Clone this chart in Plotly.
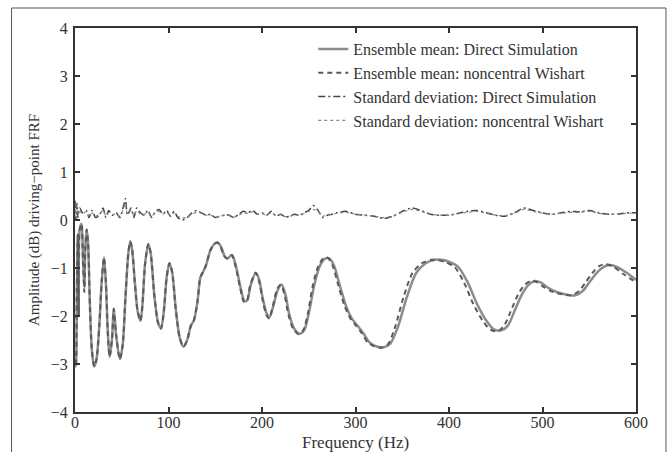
import plotly.graph_objects as go

# ---------------- data ----------------
freq_ds = [0, 1, 2, 3, 4, 5, 7, 8.5, 10, 11, 12.5, 14, 16, 18, 20.5, 23, 26, 28.5, 31, 33, 35, 37,
           39.5, 41.5, 44, 48, 51, 54, 57, 59, 61, 64, 67, 70, 72, 75, 78.5, 81, 85, 89, 92, 95,
           98, 101, 104, 108, 112, 116, 120, 124, 127, 131, 134, 137, 140, 145, 149, 152.5, 156,
           160, 163, 168, 172, 177, 181, 184, 188, 193.5, 197, 201, 205, 208, 212, 217, 221, 225,
           229, 234, 240, 245, 250, 256, 262, 268, 272, 277, 283, 290, 296, 302, 308, 315, 322,
           330, 337, 345, 355, 365, 375, 385, 392, 400, 410, 420, 430, 440, 448, 456, 463, 470,
           478, 485, 492, 498, 505, 515, 525, 535, 543, 550, 558, 565, 572, 580, 590, 600]
amp_ds = [-2.9, -3.05, -1.5, -0.3, -2.0, -0.2, -0.08, -0.8, -1.4, -0.6, -0.2, -0.5, -1.8, -2.7,
          -3.05, -2.9, -2.2, -1.3, -0.78, -1.3, -2.3, -2.85, -2.5, -1.85, -2.4, -2.9, -2.6, -1.6,
          -0.7, -0.45, -0.6, -1.3, -1.9, -2.1, -1.8, -0.9, -0.5, -0.7, -1.6, -2.15, -2.26, -1.9,
          -1.2, -0.9, -1.1, -1.9, -2.45, -2.64, -2.5, -2.2, -2.1, -1.7, -1.2, -1.08, -0.95, -0.62,
          -0.5, -0.47, -0.55, -0.75, -0.8, -0.73, -0.95, -1.4, -1.68, -1.68, -1.35, -1.1, -1.25,
          -1.65, -1.95, -2.03, -1.8, -1.45, -1.35, -1.55, -1.95, -2.25, -2.37, -2.3, -1.95, -1.35,
          -0.95, -0.8, -0.8, -0.95, -1.35, -1.8, -2.05, -2.2, -2.35, -2.55, -2.63, -2.65, -2.58,
          -2.25, -1.6, -1.1, -0.9, -0.83, -0.83, -0.87, -0.98, -1.3, -1.75, -2.1, -2.28, -2.3,
          -2.2, -1.9, -1.55, -1.35, -1.27, -1.3, -1.4, -1.5, -1.55, -1.57, -1.48, -1.3, -1.1,
          -0.98, -0.94, -0.98, -1.1, -1.25]

freq_nw = [0, 1, 2, 3, 4, 5, 7, 8.5, 10, 11, 12.5, 14, 16, 18, 20.5, 23, 26, 28.5, 31, 33, 35, 37,
           39.5, 41.5, 44, 48, 51, 54, 57, 59, 61, 64, 67, 70, 72, 75, 78.5, 81, 85, 89, 92, 95,
           98, 101, 104, 108, 112, 116, 120, 124, 127, 131, 134, 137, 140, 145, 149, 152, 155.5,
           159.5, 162.5, 167.5, 171.5, 176.5, 180.5, 183.5, 187.5, 193, 196.5, 200.5, 204.5, 207.5,
           211.5, 216, 220, 224, 228, 233, 239, 244, 249, 254.5, 260.5, 266.5, 270.5, 275.5, 281.5,
           288.5, 294.5, 300.5, 306.5, 313, 320, 328, 335, 342, 351.5, 361, 371, 381, 388.5, 396.5,
           406, 416, 426, 436, 444, 452, 459, 466, 474, 481, 488, 494.5, 501.5, 511.5, 521.5, 531,
           539, 546, 553.5, 560.5, 567.5, 575.5, 586, 600]
amp_nw = [-2.9, -3.05, -1.5, -0.3, -2.0, -0.2, -0.08, -0.8, -1.5, -0.6, -0.2, -0.5, -1.8, -2.7,
          -3.05, -2.9, -2.2, -1.3, -0.78, -1.3, -2.3, -2.85, -2.5, -1.85, -2.4, -2.9, -2.6, -1.6,
          -0.7, -0.45, -0.6, -1.3, -1.9, -2.1, -1.8, -0.9, -0.5, -0.7, -1.6, -2.15, -2.26, -1.9,
          -1.2, -0.9, -1.1, -1.9, -2.45, -2.64, -2.5, -2.2, -2.1, -1.7, -1.2, -1.08, -0.95, -0.62,
          -0.5, -0.47, -0.55, -0.75, -0.8, -0.73, -0.95, -1.4, -1.7, -1.7, -1.35, -1.1, -1.25,
          -1.65, -1.97, -2.05, -1.8, -1.45, -1.35, -1.55, -1.95, -2.25, -2.38, -2.3, -1.95, -1.35,
          -0.95, -0.78, -0.79, -0.95, -1.35, -1.8, -2.05, -2.2, -2.35, -2.55, -2.63, -2.66, -2.58,
          -2.25, -1.6, -1.1, -0.9, -0.83, -0.84, -0.88, -0.98, -1.3, -1.75, -2.1, -2.28, -2.32,
          -2.2, -1.9, -1.55, -1.35, -1.27, -1.3, -1.4, -1.5, -1.55, -1.57, -1.48, -1.3, -1.1,
          -0.96, -0.92, -0.97, -1.12, -1.3]

freq_std = [0, 1, 2, 3, 5, 8, 12, 15, 18, 22, 26, 30, 33, 36, 40, 44, 48, 52, 54, 56, 60, 63, 66,
            70, 74, 78, 82, 86, 90, 94, 98, 102, 106, 110, 115, 120, 125, 130, 135, 140, 145, 150,
            155, 160, 165, 170, 175, 180, 185, 190, 195, 200, 205, 210, 215, 220, 225, 230, 235,
            240, 245, 250, 255, 260, 265, 270, 275, 280, 290, 300, 310, 320, 330, 340, 350, 360,
            370, 380, 390, 400, 410, 420, 430, 440, 450, 460, 470, 480, 490, 500, 510, 520, 530,
            540, 550, 560, 570, 580, 590, 600]
std_ds = [0.4, 0.0, 0.35, 0.05, 0.25, 0.15, 0.2, 0.05, 0.2, 0.05, 0.1, 0.25, 0.05, 0.2, 0.1, 0.15,
          0.05, 0.3, 0.45, 0.1, 0.25, 0.05, 0.25, 0.15, 0.1, 0.2, 0.05, 0.18, 0.22, 0.12, 0.2,
          0.08, 0.18, 0.05, 0.0, 0.05, 0.15, 0.2, 0.15, 0.1, 0.12, 0.05, 0.08, 0.1, 0.1, 0.05,
          0.12, 0.18, 0.15, 0.2, 0.12, 0.15, 0.1, 0.18, 0.08, 0.12, 0.06, 0.08, 0.12, 0.1, 0.15,
          0.2, 0.3, 0.2, 0.05, 0.1, 0.12, 0.15, 0.18, 0.12, 0.1, 0.08, 0.03, 0.08, 0.18, 0.25,
          0.2, 0.12, 0.1, 0.1, 0.14, 0.18, 0.2, 0.15, 0.1, 0.08, 0.15, 0.25, 0.2, 0.15, 0.12,
          0.15, 0.18, 0.17, 0.2, 0.15, 0.12, 0.12, 0.15, 0.15]
std_nw = [0.35, 0.05, 0.3, 0.1, 0.2, 0.12, 0.18, 0.08, 0.15, 0.08, 0.12, 0.2, 0.08, 0.15, 0.12,
          0.12, 0.08, 0.25, 0.35, 0.12, 0.2, 0.08, 0.2, 0.12, 0.12, 0.16, 0.08, 0.15, 0.18, 0.12,
          0.16, 0.1, 0.15, 0.08, 0.04, 0.06, 0.12, 0.16, 0.14, 0.1, 0.1, 0.06, 0.08, 0.1, 0.09,
          0.06, 0.1, 0.15, 0.14, 0.17, 0.12, 0.13, 0.1, 0.15, 0.09, 0.11, 0.07, 0.08, 0.1, 0.1,
          0.13, 0.18, 0.22, 0.17, 0.08, 0.1, 0.12, 0.14, 0.16, 0.12, 0.1, 0.08, 0.05, 0.08, 0.16,
          0.22, 0.18, 0.12, 0.1, 0.1, 0.13, 0.16, 0.18, 0.14, 0.1, 0.09, 0.14, 0.22, 0.18, 0.14,
          0.12, 0.14, 0.16, 0.16, 0.18, 0.14, 0.12, 0.12, 0.14, 0.14]

x_ticks = [0, 100, 200, 300, 400, 500, 600]
y_ticks = [-4, -3, -2, -1, 0, 1, 2, 3, 4]

x_title = "Frequency (Hz)"
y_title = "Amplitude (dB) driving−point FRF"
names = ["Ensemble mean: Direct Simulation",
         "Ensemble mean: noncentral Wishart",
         "Standard deviation: Direct Simulation",
         "Standard deviation: noncentral Wishart"]

# ---------------- figure ----------------
fig = go.Figure()
fig.add_trace(go.Scatter(x=freq_ds, y=amp_ds, mode="lines", name=names[0],
                         line=dict(color="#8c8c8c", width=2.5, shape="spline", smoothing=0.8)))
fig.add_trace(go.Scatter(x=freq_nw, y=amp_nw, mode="lines", name=names[1],
                         line=dict(color="#5a5a5a", width=2, dash="5px,4px", shape="spline",
                                   smoothing=0.8)))
fig.add_trace(go.Scatter(x=freq_std, y=std_ds, mode="lines", name=names[2],
                         line=dict(color="#444444", width=1.5, dash="7px,3px,2px,3px",
                                   shape="spline", smoothing=0.6)))
fig.add_trace(go.Scatter(x=freq_std, y=std_nw, mode="lines", name=names[3],
                         line=dict(color="#888888", width=1.2, dash="dot", shape="spline",
                                   smoothing=0.6)))

L, R, T, B = 74.5, 32, 28, 40
W, H = 668, 452
pw, ph = W - L - R, H - T - B


def px(xp):
    return (xp - L) / pw


def py(yp):
    return (H - B - yp) / ph


serif = "Liberation Serif"
axis_common = dict(showline=True, linecolor="#333333", linewidth=2, mirror="allticks",
                   ticks="inside", ticklen=5, tickwidth=1.5, tickcolor="#333333",
                   showgrid=False, zeroline=False, automargin=False,
                   tickfont=dict(family=serif, size=16, color="#333333"))

fig.update_layout(
    width=W, height=H,
    margin=dict(l=L, r=R, t=T, b=B),
    paper_bgcolor="white", plot_bgcolor="white",
    showlegend=True,
    legend=dict(x=px(313), y=py(32), xanchor="left", yanchor="top", bgcolor="rgba(0,0,0,0)",
                font=dict(family=serif, size=16, color="#333333"),
                tracegroupgap=0, itemwidth=30),
    xaxis=dict(range=[0, 600], tickvals=x_ticks, ticklabelstandoff=-5, **axis_common),
    yaxis=dict(range=[-4, 4], tickvals=y_ticks, ticklabelstandoff=2,
               title=dict(text=y_title, standoff=8,
                          font=dict(family=serif, size=15, color="#333333")),
               **axis_common),
    annotations=[dict(text=x_title, xref="paper", yref="paper", x=0.5, y=py(442),
                      xanchor="center", yanchor="middle", showarrow=False,
                      font=dict(family=serif, size=17, color="#333333"))],
    shapes=[dict(type="rect", xref="paper", yref="paper",
                 x0=px(11), x1=px(666), y0=py(460), y1=py(8),
                 line=dict(color="#555555", width=1), fillcolor="rgba(0,0,0,0)", layer="below")],
    hovermode=False,
)

fig.write_html("out.html")
